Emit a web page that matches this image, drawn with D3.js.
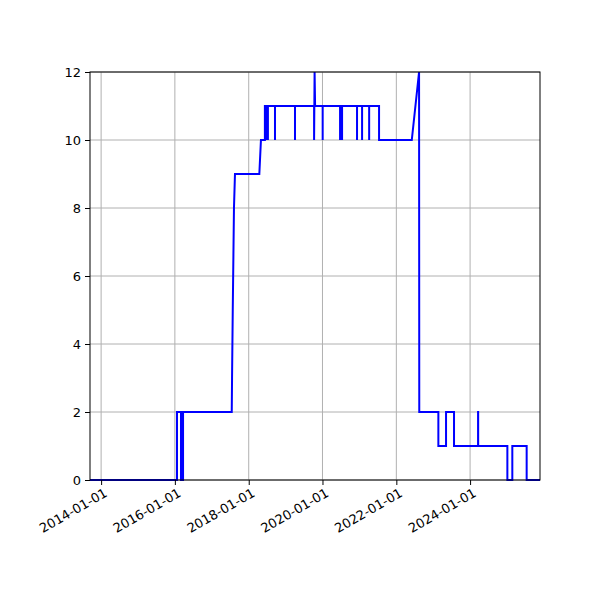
<!DOCTYPE html>
<html><head><meta charset="utf-8">
<script src="https://cdn.jsdelivr.net/npm/d3@7"></script>
<style>body{margin:0;background:#fff}text{font-family:"DejaVu Sans";}</style>
</head><body>
<script>
var dates = ["2013-09-13","2016-01-22","2016-01-22","2016-03-02","2016-03-02","2016-03-12","2016-03-22","2016-03-22",
  "2017-07-17","2017-07-20","2017-07-20","2017-07-27","2017-07-27","2017-08-08","2017-08-18","2018-04-16","2018-05-02","2018-06-10","2018-06-10",
  "2018-06-20","2018-06-20","2018-06-20",
  "2018-07-10","2018-07-10","2018-07-10",
  "2018-09-18","2018-09-18","2018-09-18",
  "2019-04-04","2019-04-04","2019-04-04",
  "2019-10-10","2019-10-10","2019-10-15","2019-10-20",
  "2020-01-03","2020-01-03","2020-01-03",
  "2020-06-23","2020-06-23","2020-06-23",
  "2020-07-13","2020-07-13","2020-07-13",
  "2020-12-08","2020-12-08","2020-12-08",
  "2021-01-27","2021-01-27","2021-01-27",
  "2021-04-07","2021-04-07","2021-04-07",
  "2021-07-14","2021-07-14","2022-06-03","2022-08-14","2022-08-16","2023-02-21","2023-02-21","2023-05-08","2023-05-08",
  "2023-07-26","2023-07-26","2024-03-20","2024-03-20","2024-03-21","2024-03-21","2025-01-04","2025-01-04","2025-02-22","2025-02-22",
  "2025-07-14","2025-07-14","2025-11-23"];
var values = [0,0,2,2,0,0,0,2,
  2,3,3,5,5,8,9,9,10,10,11,
  11,10,11,
  11,10,11,
  11,10,11,
  11,10,11,
  11,10,12,11,
  11,10,11,
  11,10,11,
  11,10,11,
  11,10,11,
  11,10,11,
  11,10,11,
  11,10,10,12,2,2,1,1,2,
  2,1,1,2,2,1,1,0,0,1,
  1,0,0];
var yTicks = [0,2,4,6,8,10,12];
var xTicks = ["2014-01-01","2016-01-01","2018-01-01","2020-01-01","2022-01-01","2024-01-01"];

var parse = d3.timeParse("%Y-%m-%d");
var pts = dates.map(function(d, i){ return {t: parse(d), v: values[i]}; });
var L = 90, R = 540, T = 72, B = 480;
var svg = d3.select("body").append("svg").attr("width", 600).attr("height", 600);
var x = d3.scaleTime().domain([parse("2013-09-13"), parse("2025-11-23")]).range([L, R]);
var y = d3.scaleLinear().domain([0, 12]).range([B, T]);

svg.selectAll(".gx").data(xTicks).enter().append("line")
  .attr("x1", function(d){return x(parse(d));}).attr("x2", function(d){return x(parse(d));})
  .attr("y1", T).attr("y2", B).attr("stroke", "#b0b0b0").attr("stroke-width", 1);
svg.selectAll(".gy").data(yTicks).enter().append("line")
  .attr("y1", function(d){return y(d);}).attr("y2", function(d){return y(d);})
  .attr("x1", L).attr("x2", R).attr("stroke", "#b0b0b0").attr("stroke-width", 1);

svg.append("path").datum(pts)
  .attr("d", d3.line().x(function(d){return x(d.t);}).y(function(d){return y(d.v);}))
  .attr("fill", "none").attr("stroke", "#0000ff").attr("stroke-width", 2);

svg.append("rect").attr("x", L).attr("y", T).attr("width", R - L).attr("height", B - T)
  .attr("fill", "none").attr("stroke", "#000").attr("stroke-width", 1);

var xa = svg.append("g").attr("transform", "translate(0," + B + ")")
  .call(d3.axisBottom(x).tickValues(xTicks.map(parse)).tickFormat(d3.timeFormat("%Y-%m-%d")).tickSize(5).tickPadding(4));
xa.select(".domain").remove();
xa.selectAll("text").attr("font-size", 13).attr("fill", "#000")
  .attr("text-anchor", "end").attr("dy", "0.6em")
  .attr("transform", "rotate(-30) translate(-2,0)");
var ya = svg.append("g").attr("transform", "translate(" + L + ",0)")
  .call(d3.axisLeft(y).tickValues(yTicks).tickSize(5).tickPadding(4));
ya.select(".domain").remove();
ya.selectAll("text").attr("font-size", 13).attr("fill", "#000");
</script>
</body></html>
